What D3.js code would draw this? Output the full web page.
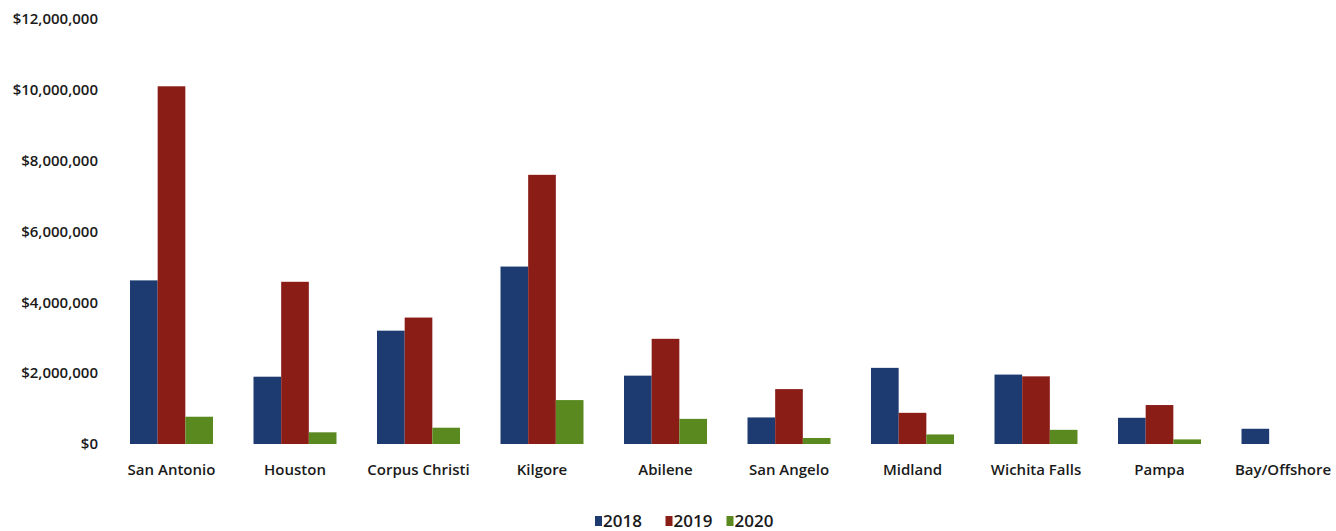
<!DOCTYPE html>
<html>
<head>
<meta charset="utf-8">
<script src="https://cdn.jsdelivr.net/npm/d3@7"></script>
<style>
  html, body { margin: 0; padding: 0; background: #fff; }
  svg { display: block; }
  text { font-family: "Open Sans", "Noto Sans", sans-serif; fill: #1a1a1a; }
</style>
</head>
<body>
<svg id="chart" width="1336" height="531"></svg>
<script>
const categories = ["San Antonio", "Houston", "Corpus Christi", "Kilgore", "Abilene", "San Angelo", "Midland", "Wichita Falls", "Pampa", "Bay/Offshore"];
const seriesNames = ["2018", "2019", "2020"];
const values2018 = [4620000, 1900000, 3200000, 5010000, 1930000, 750000, 2150000, 1960000, 740000, 430000];
const values2019 = [10100000, 4580000, 3570000, 7600000, 2970000, 1550000, 880000, 1910000, 1100000, 0];
const values2020 = [770000, 330000, 460000, 1240000, 710000, 170000, 270000, 400000, 130000, 0];
const yTicks = [0, 2000000, 4000000, 6000000, 8000000, 10000000, 12000000];
const colors = ["#1d3b70", "#8b1d17", "#5a8a1f"];

const svg = d3.select("#chart");
const seriesValues = [values2018, values2019, values2020];

const x0 = d3.scaleBand().domain(categories).range([109.75, 1344.75]).paddingInner(0.328).paddingOuter(0.164);
const x1 = d3.scaleBand().domain(seriesNames).range([0, x0.bandwidth()]).padding(0);
const y = d3.scaleLinear().domain([0, 12000000]).range([444, 19]);
const color = d3.scaleOrdinal().domain(seriesNames).range(colors);
const fmt = v => "$" + d3.format(",")(v);

// Y axis (labels only)
const yAxis = d3.axisLeft(y).tickValues(yTicks).tickFormat(fmt).tickSize(0).tickPadding(0);
const gy = svg.append("g").attr("transform", "translate(98,0)").call(yAxis);
gy.select(".domain").remove();
gy.selectAll("text").style("font-family", "'Open Sans', sans-serif").style("font-size", "15px").style("font-weight", "600").attr("fill", "#1a1a1a");

// Bars
const rows = categories.map((c, i) => ({ cat: c, vals: seriesNames.map((s, j) => ({ s, v: seriesValues[j][i] })) }));
const groups = svg.append("g").selectAll("g").data(rows).join("g")
  .attr("transform", d => `translate(${x0(d.cat)},0)`);
groups.selectAll("rect").data(d => d.vals.filter(e => e.v > 0)).join("rect")
  .attr("x", d => x1(d.s))
  .attr("width", x1.bandwidth())
  .attr("y", d => y(d.v))
  .attr("height", d => y(0) - y(d.v))
  .attr("fill", d => color(d.s));

// X axis (labels only)
const xAxis = d3.axisBottom(x0).tickSize(0).tickPadding(0);
const gx = svg.append("g").attr("transform", "translate(0,464)").call(xAxis);
gx.select(".domain").remove();
gx.selectAll("text").style("font-family", "'Open Sans', sans-serif").style("font-size", "15px").style("font-weight", "600").attr("fill", "#1a1a1a");

// Legend
const legendX = [595, 665.5, 726.5];
const legend = svg.append("g").selectAll("g").data(seriesNames).join("g")
  .attr("transform", (d, i) => `translate(${legendX[i]},521)`);
legend.append("rect").attr("x", 0).attr("y", -5).attr("width", 7).attr("height", 10).attr("fill", d => color(d));
legend.append("text").attr("x", 8).attr("y", 0).attr("dy", "0.36em")
  .style("font-size", "17px").style("font-weight", "600").text(d => d);
</script>
</body>
</html>
